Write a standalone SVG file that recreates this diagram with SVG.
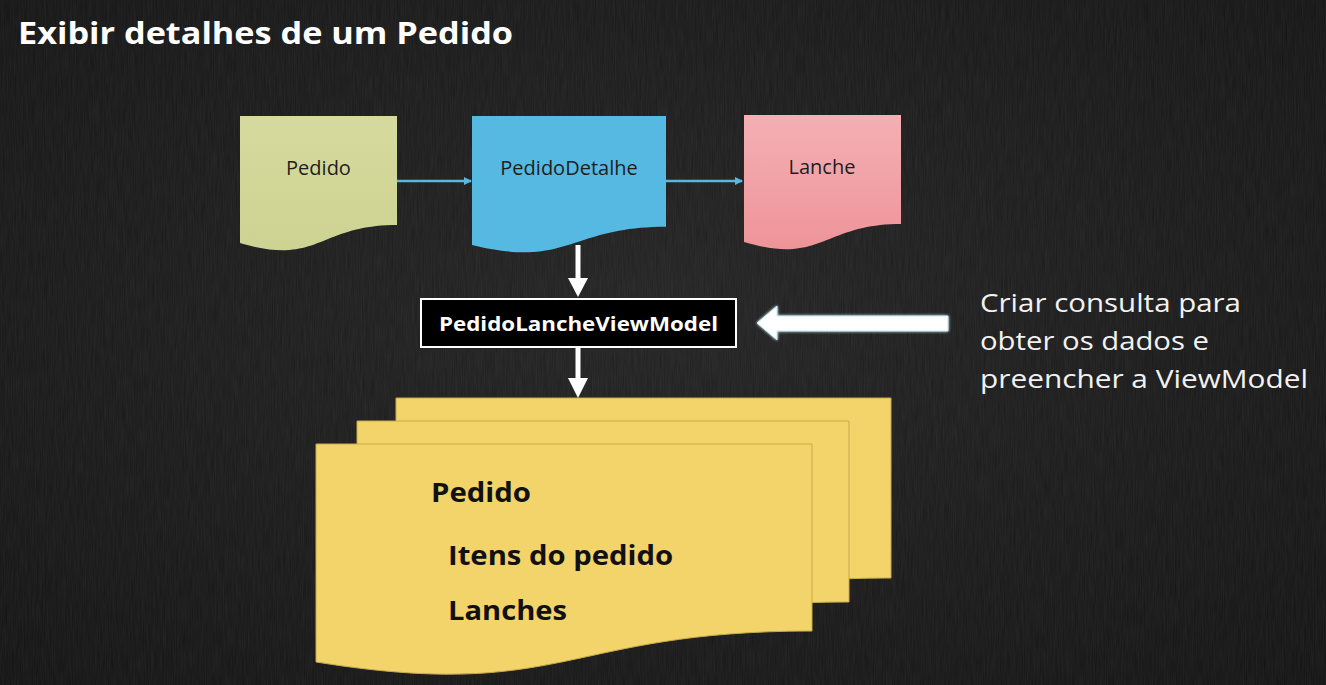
<svg xmlns="http://www.w3.org/2000/svg" width="1326" height="685" viewBox="0 0 1326 685">
<defs>
<style>
.t{font-family:"Open Sans","Noto Sans","Liberation Sans",sans-serif}
.title{font-size:30px;font-weight:bold;fill:#ffffff}
.lbl{font-size:20px;fill:#1e1e1e}
.vm{font-size:19px;font-weight:bold;fill:#ffffff}
.side{font-size:25px;fill:#f2f2f2}
.doc{font-size:26px;font-weight:bold;fill:#111111}
.yel{fill:#f2d46b;stroke:#c9a94a;stroke-width:1}
.blue{stroke:#5ab8de;stroke-width:2.5;fill:none}
.white{stroke:#ffffff;stroke-width:5;fill:none}
</style>
<marker id="ab" markerWidth="8" markerHeight="8" refX="7" refY="4" orient="auto" markerUnits="userSpaceOnUse">
<path d="M0,0 L8,4 L0,8 Z" fill="#5ab8de"/>
</marker>
<radialGradient id="bg" cx="50%" cy="45%" r="75%">
<stop offset="0" stop-color="#222222"/>
<stop offset="1" stop-color="#121212"/>
</radialGradient>
<linearGradient id="pink" x1="0" y1="0" x2="0" y2="1">
<stop offset="0" stop-color="#f4b0b4"/>
<stop offset="1" stop-color="#ee9499"/>
</linearGradient>
<linearGradient id="green" x1="0" y1="0" x2="0" y2="1">
<stop offset="0" stop-color="#d6da9e"/>
<stop offset="1" stop-color="#cdd392"/>
</linearGradient>
<filter id="noise" x="0" y="0" width="100%" height="100%">
<feTurbulence type="fractalNoise" baseFrequency="0.9 0.04" numOctaves="2" seed="4"/>
<feColorMatrix type="matrix" values="0 0 0 0 1  0 0 0 0 1  0 0 0 0 1  0 0 0 0.07 0"/>
</filter>
<filter id="glow" x="-10%" y="-30%" width="120%" height="160%">
<feGaussianBlur stdDeviation="1.5" result="b"/>
<feMerge><feMergeNode in="b"/><feMergeNode in="SourceGraphic"/></feMerge>
</filter>
</defs>

<rect width="1326" height="685" fill="url(#bg)"/>
<rect width="1326" height="685" filter="url(#noise)"/>

<text class="t title" x="18" y="44" textLength="495" lengthAdjust="spacingAndGlyphs">Exibir detalhes de um Pedido</text>

<g id="node-pedido">
<path d="M240,116 H397 V225 C318.5,225 318.5,266.6 240,243 Z" fill="url(#green)"/>
<text class="t lbl" x="318.5" y="175" text-anchor="middle">Pedido</text>
</g>

<g id="node-pedidodetalhe">
<path d="M472,116 H666 V226.7 C569,226.7 569,268.8 472,244.9 Z" fill="#56b9e2"/>
<text class="t lbl" x="569" y="175" text-anchor="middle">PedidoDetalhe</text>
</g>

<g id="node-lanche">
<path d="M744,115 H901 V224 C822.5,224 822.5,265.5 744,242 Z" fill="url(#pink)"/>
<text class="t lbl" x="822" y="174" text-anchor="middle">Lanche</text>
</g>

<g id="node-viewmodel">
<rect x="421" y="299" width="315" height="48" fill="#000000" stroke="#ffffff" stroke-width="2"/>
<text class="t vm" x="578.5" y="331" text-anchor="middle" textLength="279" lengthAdjust="spacingAndGlyphs">PedidoLancheViewModel</text>
</g>

<g id="node-documentos">
<path class="yel" d="M396,398 H891 V578 C643.5,578 643.5,646 396,613 Z"/>
<path class="yel" d="M357,421 H849 V602 C603,602 603,671 357,637 Z"/>
<path class="yel" d="M316,444 H812 V631 C564,631 564,702 316,662 Z"/>
<text class="t doc" x="431" y="502" textLength="100" lengthAdjust="spacingAndGlyphs">Pedido</text>
<text class="t doc" x="448" y="565" textLength="225" lengthAdjust="spacingAndGlyphs">Itens do pedido</text>
<text class="t doc" x="448" y="620" textLength="119" lengthAdjust="spacingAndGlyphs">Lanches</text>
</g>

<g id="node-nota">
<text class="t side" x="980" y="312" textLength="261" lengthAdjust="spacingAndGlyphs">Criar consulta para</text>
<text class="t side" x="980" y="350" textLength="229" lengthAdjust="spacingAndGlyphs">obter os dados e</text>
<text class="t side" x="980" y="388" textLength="328" lengthAdjust="spacingAndGlyphs">preencher a ViewModel</text>
</g>

<g id="connectors">
<line class="blue" x1="397" y1="181" x2="471" y2="181" marker-end="url(#ab)"/>
<line class="blue" x1="666" y1="181" x2="742" y2="181" marker-end="url(#ab)"/>
<line class="white" x1="578" y1="245" x2="578" y2="280"/>
<path d="M568,278 L588,278 L578,297 Z" fill="#ffffff"/>
<line class="white" x1="578" y1="347" x2="578" y2="380"/>
<path d="M568,378 L588,378 L578,398 Z" fill="#ffffff"/>
<path d="M948,316 H777 V306 L757,323 L777,340 V331 H948 Z" fill="#ffffff" stroke="#bfe8f5" stroke-width="1" filter="url(#glow)"/>
</g>
</svg>
